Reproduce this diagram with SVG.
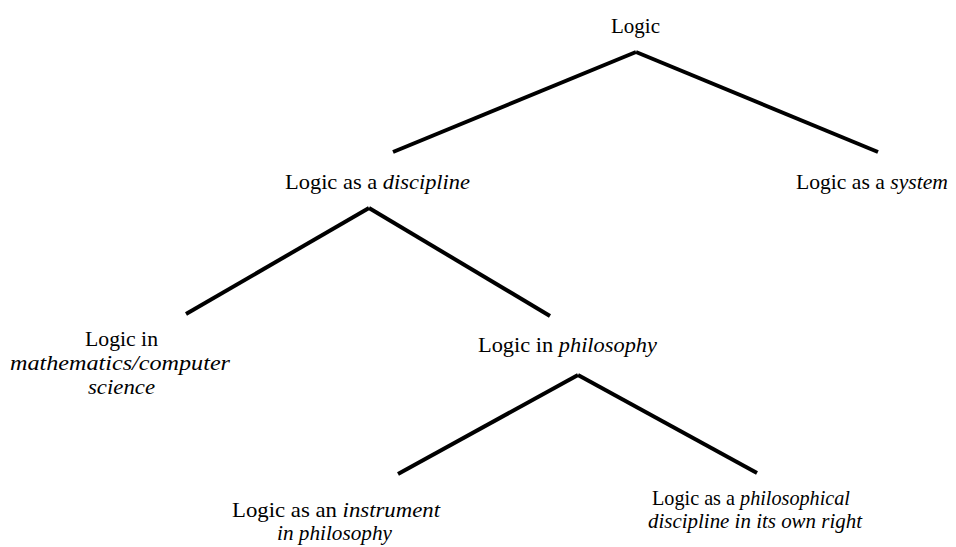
<svg xmlns="http://www.w3.org/2000/svg" width="956" height="547" viewBox="0 0 956 547">
<style>
text{font-family:"Liberation Serif","Times New Roman",serif;font-size:21px;fill:#000;text-anchor:start}
.i{font-style:italic}
.c line{stroke:#000;stroke-width:4;stroke-linecap:butt}
</style>
<rect width="956" height="547" fill="#fff"/>
<g class="c" id="connectors">
<line x1="636" y1="52" x2="393" y2="152"/>
<line x1="636" y1="52" x2="878" y2="152"/>
<line x1="369" y1="208" x2="186" y2="314"/>
<line x1="369" y1="208" x2="550" y2="316"/>
<line x1="578" y1="375" x2="398" y2="474"/>
<line x1="578" y1="375" x2="757" y2="473"/>
</g>
<g id="n-logic"><text x="611" y="33" textLength="49" lengthAdjust="spacingAndGlyphs">Logic</text></g>
<g id="n-discipline"><text x="285" y="189" textLength="185" lengthAdjust="spacingAndGlyphs">Logic as a <tspan class="i">discipline</tspan></text></g>
<g id="n-system"><text x="796" y="189" textLength="152" lengthAdjust="spacingAndGlyphs">Logic as a <tspan class="i">system</tspan></text></g>
<g id="n-math"><text x="85" y="346" textLength="73" lengthAdjust="spacingAndGlyphs">Logic in</text><text x="10" y="370" class="i" textLength="220" lengthAdjust="spacingAndGlyphs">mathematics/computer</text><text x="88" y="394" class="i" textLength="67" lengthAdjust="spacingAndGlyphs">science</text></g>
<g id="n-philosophy"><text x="478" y="352" textLength="179" lengthAdjust="spacingAndGlyphs">Logic in <tspan class="i">philosophy</tspan></text></g>
<g id="n-instrument"><text x="232" y="517" textLength="208" lengthAdjust="spacingAndGlyphs">Logic as an <tspan class="i">instrument</tspan></text><text x="277" y="540" class="i" textLength="115" lengthAdjust="spacingAndGlyphs">in philosophy</text></g>
<g id="n-own"><text x="652" y="505" textLength="198" lengthAdjust="spacingAndGlyphs">Logic as a <tspan class="i">philosophical</tspan></text><text x="648" y="528" class="i" textLength="214" lengthAdjust="spacingAndGlyphs">discipline in its own right</text></g>
</svg>
